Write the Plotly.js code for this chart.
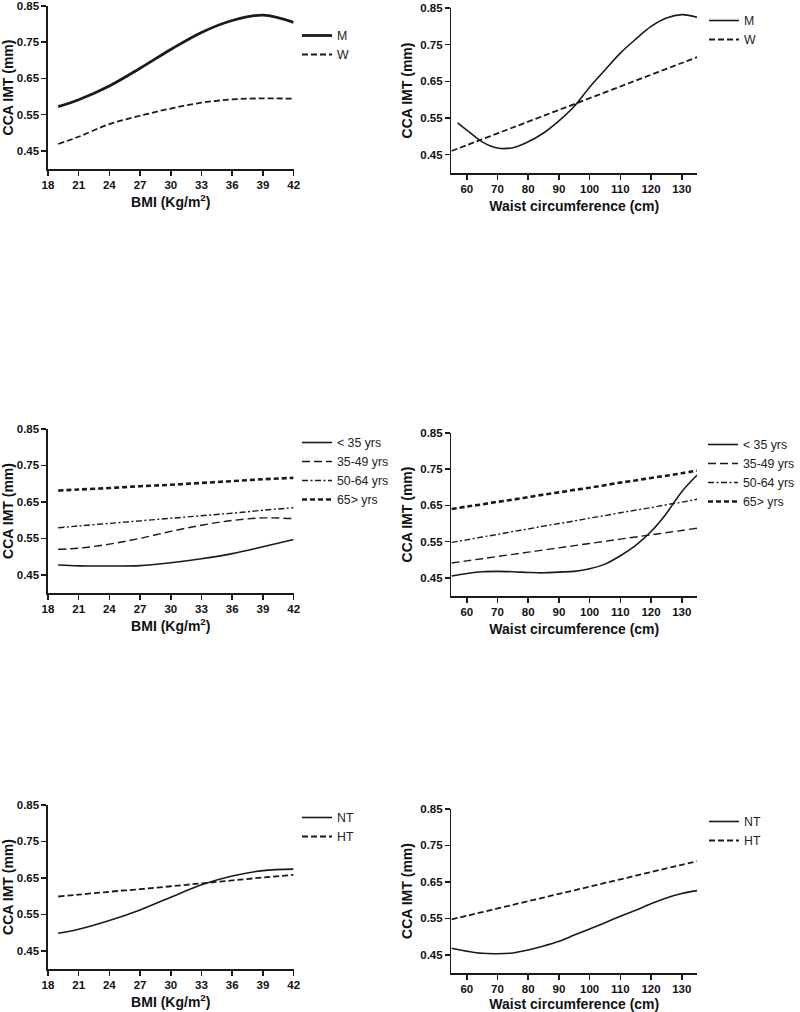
<!DOCTYPE html>
<html>
<head>
<meta charset="utf-8">
<script src="https://cdn.plot.ly/plotly-3.0.1.min.js"></script>
<style>html,body{margin:0;padding:0;background:#fff;}#chart{width:800px;height:1012px;}</style>
</head>
<body>
<div id="chart"></div>
<script>
// ---- data ----
const bmi = [19, 21, 24, 27, 30, 33, 36, 39, 42];
const bmiTicks = [18, 21, 24, 27, 30, 33, 36, 39, 42];
const waist = [55, 60, 65, 70, 75, 80, 85, 90, 95, 100, 105, 110, 115, 120, 125, 130, 135];
const waistMen = [57, 60, 65, 70, 75, 80, 85, 90, 95, 100, 105, 110, 115, 120, 125, 130, 135];
const waistTicks = [60, 70, 80, 90, 100, 110, 120, 130];
const imtTicks = [0.45, 0.55, 0.65, 0.75, 0.85];
const imtTickText = ["0.45", "0.55", "0.65", "0.75", "0.85"];

// Panel 1: BMI by sex
const bmiM = [0.572, 0.591, 0.629, 0.678, 0.730, 0.777, 0.810, 0.825, 0.805];
const bmiW = [0.469, 0.489, 0.524, 0.547, 0.567, 0.583, 0.592, 0.595, 0.594];
// Panel 2: waist by sex
const waistM = [0.537, 0.517, 0.485, 0.468, 0.469, 0.485, 0.509, 0.542, 0.582, 0.634, 0.681, 0.727, 0.765, 0.800, 0.823, 0.832, 0.825];
const waistW = [0.460, 0.476, 0.492, 0.508, 0.524, 0.540, 0.556, 0.572, 0.588, 0.604, 0.620, 0.636, 0.652, 0.668, 0.684, 0.700, 0.716];
// Panel 3: BMI by age
const bmiAge1 = [0.477, 0.4745, 0.474, 0.475, 0.483, 0.494, 0.508, 0.527, 0.547];
const bmiAge2 = [0.520, 0.523, 0.534, 0.550, 0.569, 0.586, 0.599, 0.606, 0.604];
const bmiAge3 = [0.579, 0.584, 0.591, 0.598, 0.605, 0.612, 0.619, 0.627, 0.634];
const bmiAge4 = [0.681, 0.684, 0.688, 0.693, 0.697, 0.702, 0.707, 0.712, 0.716];
// Panel 4: waist by age
const waistAge1 = [0.455, 0.462, 0.467, 0.468, 0.467, 0.465, 0.464, 0.466, 0.468, 0.475, 0.488, 0.511, 0.540, 0.578, 0.628, 0.688, 0.734];
const waistAge2 = [0.491, 0.497, 0.503, 0.509, 0.515, 0.521, 0.527, 0.533, 0.539, 0.545, 0.551, 0.557, 0.563, 0.569, 0.575, 0.581, 0.587];
const waistAge3 = [0.548, 0.555, 0.563, 0.570, 0.578, 0.585, 0.593, 0.600, 0.607, 0.615, 0.622, 0.630, 0.637, 0.644, 0.652, 0.659, 0.667];
const waistAge4 = [0.640, 0.647, 0.653, 0.660, 0.666, 0.673, 0.680, 0.686, 0.693, 0.699, 0.706, 0.713, 0.719, 0.726, 0.732, 0.739, 0.746];
// Panel 5: BMI by blood pressure
const bmiNT = [0.498, 0.509, 0.533, 0.562, 0.597, 0.631, 0.655, 0.670, 0.674];
const bmiHT = [0.599, 0.604, 0.612, 0.619, 0.627, 0.635, 0.643, 0.651, 0.658];
// Panel 6: waist by blood pressure
const waistNT = [0.468, 0.460, 0.454, 0.453, 0.455, 0.463, 0.474, 0.487, 0.504, 0.521, 0.538, 0.556, 0.572, 0.590, 0.606, 0.618, 0.626];
const waistHT = [0.547, 0.557, 0.567, 0.577, 0.587, 0.597, 0.607, 0.617, 0.627, 0.637, 0.647, 0.657, 0.667, 0.677, 0.687, 0.697, 0.707];

const sexNames = ["M", "W"];
const ageNames = ["< 35 yrs", "35-49 yrs", "50-64 yrs", "65> yrs"];
const bpNames = ["NT", "HT"];
const bmiTitle = "BMI (Kg/m<sup>2</sup>)";
const waistTitle = "Waist circumference (cm)";
const yTitle = "CCA IMT (mm)";

// ---- styles ----
const ink = "#1a1a1a";
const SOLID = {color: ink, width: 1.6, dash: "solid", shape: "spline"};
const THICK = {color: ink, width: 2.8, dash: "solid", shape: "spline"};
const DASH = {color: ink, width: 1.8, dash: "6px,3px", shape: "spline"};
const LONGDASH = {color: ink, width: 1.4, dash: "8px,4px", shape: "spline"};
const DASHDOT = {color: ink, width: 1.4, dash: "6px,2.5px,2px,2.5px", shape: "spline"};
const THICKDASH = {color: ink, width: 2.6, dash: "5px,3px", shape: "spline"};

function tr(x, y, name, line, n) {
  const ax = n === 1 ? "" : String(n);
  return {x: x, y: y, name: name, mode: "lines", line: line,
          xaxis: "x" + ax, yaxis: "y" + ax, legend: n === 1 ? "legend" : "legend" + n,
          hoverinfo: "skip"};
}

const traces = [
  tr(bmi, bmiM, sexNames[0], THICK, 1),
  tr(bmi, bmiW, sexNames[1], DASH, 1),
  tr(waistMen, waistM, sexNames[0], SOLID, 2),
  tr(waist, waistW, sexNames[1], DASH, 2),
  tr(bmi, bmiAge1, ageNames[0], SOLID, 3),
  tr(bmi, bmiAge2, ageNames[1], LONGDASH, 3),
  tr(bmi, bmiAge3, ageNames[2], DASHDOT, 3),
  tr(bmi, bmiAge4, ageNames[3], THICKDASH, 3),
  tr(waist, waistAge1, ageNames[0], SOLID, 4),
  tr(waist, waistAge2, ageNames[1], LONGDASH, 4),
  tr(waist, waistAge3, ageNames[2], DASHDOT, 4),
  tr(waist, waistAge4, ageNames[3], THICKDASH, 4),
  tr(bmi, bmiNT, bpNames[0], SOLID, 5),
  tr(bmi, bmiHT, bpNames[1], DASH, 5),
  tr(waist, waistNT, bpNames[0], SOLID, 6),
  tr(waist, waistHT, bpNames[1], DASH, 6)
];

const W = 800, H = 1012;
const tickFont = {family: "Liberation Sans, Arial, sans-serif", size: 11.5, color: "#111", weight: 700};
const titleFont = {family: "Liberation Sans, Arial, sans-serif", size: 14, color: "#111", weight: 700};

function xAxis(px0, px1, isBmi, anchor) {
  return {
    domain: [px0 / W, px1 / W], anchor: anchor,
    range: isBmi ? [18, 42] : [55, 135],
    tickmode: "array", tickvals: isBmi ? bmiTicks : waistTicks,
    showline: true, linecolor: ink, linewidth: 1.5, mirror: false,
    ticks: "outside", ticklen: 5, tickwidth: 1.5, tickcolor: ink,
    showgrid: false, zeroline: false, tickfont: tickFont, automargin: false,
    title: {text: isBmi ? bmiTitle : waistTitle, font: titleFont, standoff: 7}
  };
}
function yAxis(py0, py1, anchor) {
  return {
    domain: [1 - py1 / H, 1 - py0 / H], anchor: anchor,
    range: [0.40, 0.85],
    tickmode: "array", tickvals: imtTicks, ticktext: imtTickText,
    showline: true, linecolor: ink, linewidth: 1.5,
    ticks: "outside", ticklen: 5, tickwidth: 1.5, tickcolor: ink,
    showgrid: false, zeroline: false, tickfont: tickFont, automargin: false,
    title: {text: yTitle, font: titleFont, standoff: 4}
  };
}
function legendAt(pxX, pxY) {
  return {x: pxX / W, y: 1 - pxY / H, xanchor: "left", yanchor: "top",
          bgcolor: "rgba(0,0,0,0)", borderwidth: 0,
          font: {family: "Liberation Sans, Arial, sans-serif", size: 12.3, color: "#222"},
          itemwidth: 30, tracegroupgap: 0};
}

const layout = {
  width: W, height: H,
  margin: {l: 0, r: 0, t: 0, b: 0},
  paper_bgcolor: "#fff", plot_bgcolor: "#fff",
  showlegend: true,
  xaxis: xAxis(48, 294, true, "y"),   yaxis: yAxis(6, 169, "x"),
  xaxis2: xAxis(452, 698, false, "y2"), yaxis2: yAxis(8, 173, "x2"),
  xaxis3: xAxis(48, 294, true, "y3"),  yaxis3: yAxis(429, 593, "x3"),
  xaxis4: xAxis(452, 698, false, "y4"), yaxis4: yAxis(433, 596, "x4"),
  xaxis5: xAxis(48, 294, true, "y5"),  yaxis5: yAxis(805, 969, "x5"),
  xaxis6: xAxis(452, 698, false, "y6"), yaxis6: yAxis(809, 973, "x6"),
  legend: legendAt(297, 21),
  legend2: legendAt(704, 6),
  legend3: legendAt(297, 428),
  legend4: legendAt(704, 430),
  legend5: legendAt(297, 803),
  legend6: legendAt(704, 807)
};

Plotly.newPlot("chart", traces, layout, {staticPlot: true, displayModeBar: false});
</script>
</body>
</html>
